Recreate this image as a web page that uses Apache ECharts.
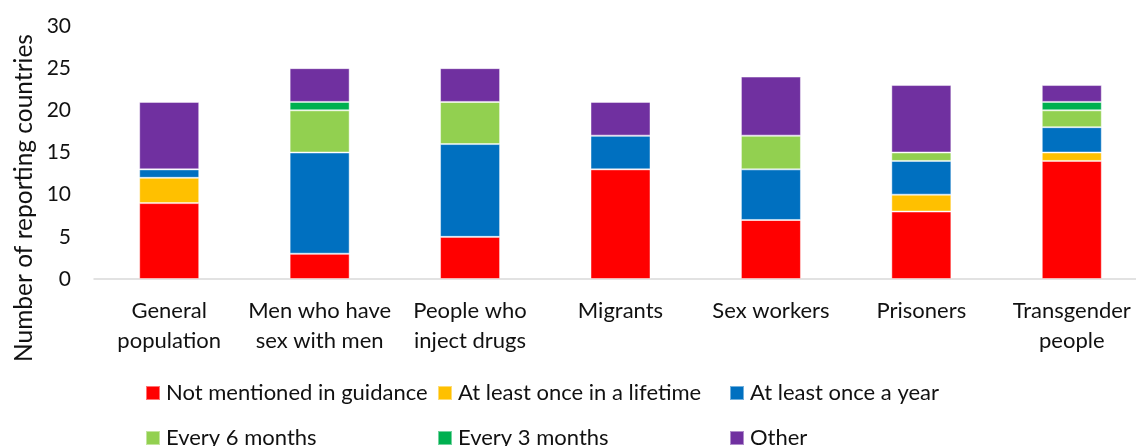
<!DOCTYPE html>
<html>
<head>
<meta charset="utf-8">
<script src="https://cdn.jsdelivr.net/npm/echarts@6/dist/echarts.min.js"></script>
<style>
  html, body { margin: 0; padding: 0; background: #fff; overflow: hidden; }
  /* canvas runs slightly past the right edge of the window, so the last category slot is clipped */
  #chart { width: 1147px; height: 446px; }
</style>
</head>
<body>
<div id="chart"></div>
<script>
// Key populations (x-axis categories)
const categories = [
  'General\npopulation',
  'Men who have\nsex with men',
  'People who\ninject drugs',
  'Migrants',
  'Sex workers',
  'Prisoners',
  'Transgender\npeople'
];

// Testing frequency recommended in national guidance (stack segments, bottom to top)
const notMentioned   = [9, 3, 5, 13, 7, 8, 14];
const onceLifetime   = [3, 0, 0, 0, 0, 2, 1];
const onceYear       = [1, 12, 11, 4, 6, 4, 3];
const every6Months   = [0, 5, 5, 0, 4, 1, 2];
const every3Months   = [0, 1, 0, 0, 0, 0, 1];
const other          = [8, 4, 4, 4, 7, 8, 2];

const yTicks = [0, 5, 10, 15, 20, 25, 30];

const FONT = 'Lato, "Open Sans", sans-serif';
const TEXT = '#111';

const seriesDefs = [
  { name: 'Not mentioned in guidance',   data: notMentioned, color: '#FF0000' },
  { name: 'At least once in a lifetime', data: onceLifetime, color: '#FFC000' },
  { name: 'At least once a year',        data: onceYear,     color: '#0070C0' },
  { name: 'Every 6 months',              data: every6Months, color: '#92D050' },
  { name: 'Every 3 months',              data: every3Months, color: '#00B050' },
  { name: 'Other',                       data: other,        color: '#7030A0' }
];

// Legend laid out as three fixed columns, two rows each
const legendCommon = {
  orient: 'vertical',
  top: 381,
  height: 120,
  padding: 0,
  icon: 'rect',
  itemWidth: 14,
  itemHeight: 14,
  itemGap: 21,
  selectedMode: false,
  textStyle: { fontFamily: FONT, fontSize: 22, color: TEXT, lineHeight: 24, padding: [0, 0, 0, 1] }
};

const chart = echarts.init(document.getElementById('chart'), null, { renderer: 'canvas' });

chart.setOption({
  animation: false,
  backgroundColor: '#fff',
  grid: { left: 94, top: 26, right: 0, bottom: 167, containLabel: false },
  legend: [
    Object.assign({ left: 145, data: [seriesDefs[0].name, seriesDefs[3].name] }, legendCommon),
    Object.assign({ left: 437, data: [seriesDefs[1].name, seriesDefs[4].name] }, legendCommon),
    Object.assign({ left: 729, data: [seriesDefs[2].name, seriesDefs[5].name] }, legendCommon)
  ],
  graphic: [{
    type: 'text',
    x: 24,
    y: 198,
    rotation: Math.PI / 2,
    style: {
      text: 'Number of reporting countries',
      font: '24.5px ' + FONT,
      fill: TEXT,
      align: 'center',
      verticalAlign: 'middle'
    }
  }],
  xAxis: {
    type: 'category',
    data: categories,
    axisLine: { show: true, lineStyle: { color: '#D9D9D9', width: 1.5 } },
    axisTick: { show: false },
    axisLabel: {
      interval: 0,
      margin: 17,
      fontFamily: FONT,
      fontSize: 22,
      lineHeight: 30,
      color: TEXT
    }
  },
  yAxis: {
    type: 'value',
    min: yTicks[0],
    max: yTicks[yTicks.length - 1],
    interval: yTicks[1] - yTicks[0],
    axisLine: { show: false },
    axisTick: { show: false },
    splitLine: { show: false },
    axisLabel: {
      margin: 23,
      fontFamily: FONT,
      fontSize: 21,
      color: TEXT
    }
  },
  series: seriesDefs.map(s => ({
    name: s.name,
    type: 'bar',
    stack: 'total',
    barWidth: 60,
    data: s.data,
    itemStyle: {
      color: s.color,
      borderColor: 'rgba(255,255,255,0.45)',
      borderWidth: 1
    }
  }))
});
</script>
</body>
</html>
